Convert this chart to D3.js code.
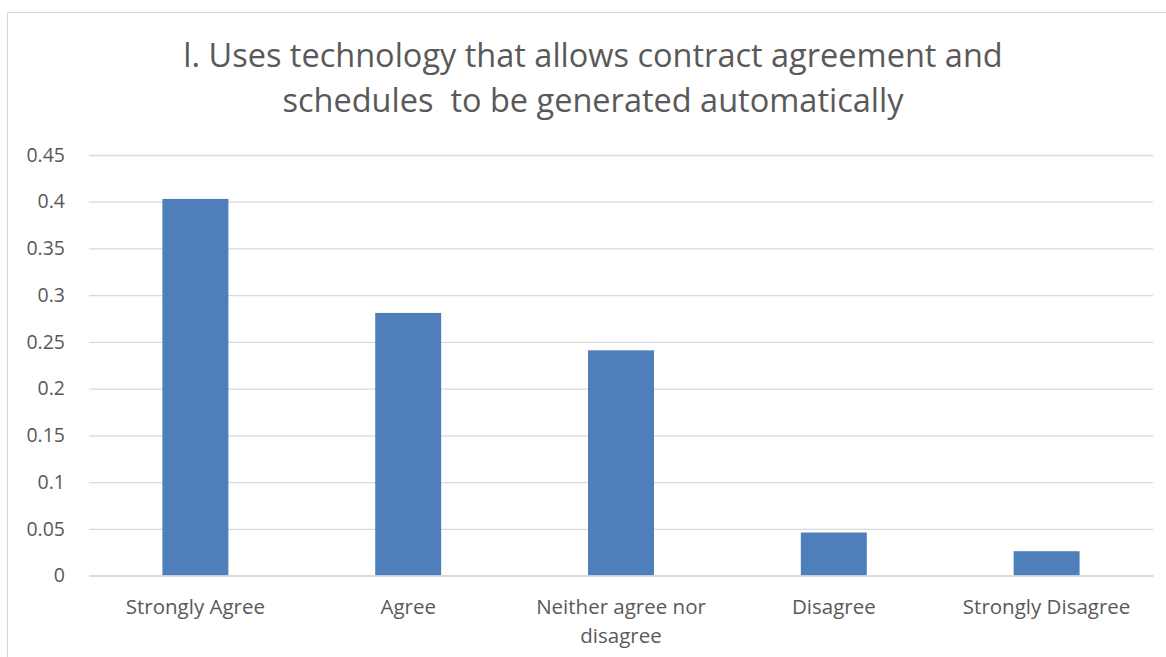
<!DOCTYPE html>
<html>
<head>
<meta charset="utf-8">
<script src="https://cdn.jsdelivr.net/npm/d3@7"></script>
<style>
  html, body { margin: 0; padding: 0; background: #fff; }
  svg { display: block; }
  text { font-family: "Open Sans", Lato, sans-serif; fill: #595959; }
</style>
</head>
<body>
<svg id="chart" width="1166" height="657"></svg>
<script>
// Survey responses (share of respondents)
const titleLines = [
  "l. Uses technology that allows contract agreement and",
  "schedules  to be generated automatically"
];
const categories = ["Strongly Agree", "Agree", "Neither agree nor disagree", "Disagree", "Strongly Disagree"];
const categoryLines = [["Strongly Agree"], ["Agree"], ["Neither agree nor", "disagree"], ["Disagree"], ["Strongly Disagree"]];
const values = [0.403, 0.281, 0.241, 0.046, 0.026];
const yTicks = [0, 0.05, 0.1, 0.15, 0.2, 0.25, 0.3, 0.35, 0.4, 0.45];

const svg = d3.select("#chart");
const W = 1166, H = 657;
const plot = { left: 89, right: 1153, top: 155, bottom: 575.5 };

// chart frame
svg.append("rect")
  .attr("x", 7.5).attr("y", 12.5)
  .attr("width", W + 20).attr("height", H + 20)
  .attr("fill", "none").attr("stroke", "#d9d9d9").attr("stroke-width", 1.2);

const x = d3.scaleBand()
  .domain(categories)
  .range([plot.left, plot.right])
  .paddingInner(0.69)
  .paddingOuter(0.345);

const y = d3.scaleLinear()
  .domain([0, 0.45])
  .range([plot.bottom, plot.top]);

const fmt = d => d === 0 ? "0" : String(+d.toFixed(2));

// horizontal gridlines + y tick labels
const yAxis = svg.append("g")
  .attr("transform", `translate(${plot.left},0)`)
  .call(d3.axisLeft(y)
    .tickValues(yTicks)
    .tickFormat(fmt)
    .tickSize(-(plot.right - plot.left))
    .tickPadding(24));
yAxis.select(".domain").remove();
yAxis.selectAll(".tick line").attr("stroke", "#d9d9d9").attr("stroke-width", 1.3);
yAxis.selectAll(".tick text")
  .attr("font-size", 19.5)
  .attr("fill", "#595959");

// bars
svg.append("g")
  .selectAll("rect")
  .data(values)
  .join("rect")
  .attr("x", (d, i) => x(categories[i]))
  .attr("width", x.bandwidth())
  .attr("y", d => y(d))
  .attr("height", d => y(0) - y(d))
  .attr("fill", "#4f7fbb");

// category axis
const xAxis = svg.append("g")
  .attr("transform", `translate(0,${plot.bottom})`)
  .call(d3.axisBottom(x).tickSize(0).tickFormat(""));
xAxis.select(".domain").attr("stroke", "#d9d9d9").attr("stroke-width", 1.3);
xAxis.selectAll(".tick").each(function(d, i) {
  const t = d3.select(this).append("text")
    .attr("text-anchor", "middle")
    .attr("font-size", 20.5)
    .attr("fill", "#595959");
  categoryLines[i].forEach((line, j) => {
    t.append("tspan")
      .attr("x", 0)
      .attr("y", 38 + j * 29)
      .text(line);
  });
});

// title
const title = svg.append("text")
  .attr("text-anchor", "middle")
  .attr("font-size", 32.5)
  .attr("fill", "#595959");
titleLines.forEach((line, j) => {
  title.append("tspan")
    .attr("x", 593)
    .attr("y", 67 + j * 45)
    .attr("xml:space", "preserve")
    .style("white-space", "pre")
    .text(line);
});
</script>
</body>
</html>
